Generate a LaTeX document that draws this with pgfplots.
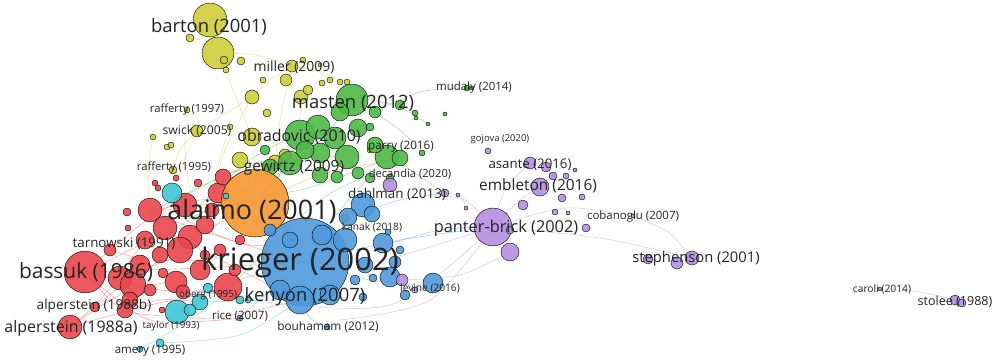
\documentclass[border=0pt]{standalone}
\usepackage{pgfplots}
\pgfplotsset{compat=1.18}
\usepackage{fontspec}
\setmainfont{Open Sans}

\definecolor{cred}{RGB}{234,70,75}
\definecolor{cgreen}{RGB}{78,184,70}
\definecolor{cblue}{RGB}{78,153,220}
\definecolor{cyellow}{RGB}{205,205,58}
\definecolor{cpurple}{RGB}{180,142,224}
\definecolor{ccyan}{RGB}{64,198,214}
\definecolor{corange}{RGB}{246,150,48}
\definecolor{ctext}{RGB}{35,35,35}

\pgfplotsset{
  bub/.style={scatter, only marks, mark=*, point meta=x,
    scatter/use mapped color={draw=none, fill=#1, fill opacity=0.9},
    visualization depends on={\thisrow{r}\as\bubr},
    scatter/@pre marker code/.append style={/tikz/mark size=\bubr}},
  edge/.style={smooth, no markers, draw=#1, line width=0.6pt, opacity=0.45},
}
\newcommand{\lab}[4]{\begin{pgfonlayer}{axis foreground}\node[text=ctext, inner sep=0pt, font=\fontsize{#3}{#3}\selectfont] at (axis cs:#1,#2) {#4};\end{pgfonlayer}}

\begin{document}
\begin{tikzpicture}
\begin{axis}[
  width=997bp, height=360bp, scale only axis, hide axis, set layers,
  xmin=0, xmax=997, ymin=0, ymax=360, y dir=reverse, clip=true,
]

% links
\addplot[edge=cred] coordinates {(85,272) (130,250) (168,232)};
\addplot[edge=cred] coordinates {(85,272) (140,225) (190,193)};
\addplot[edge=cred] coordinates {(85,272) (160,290) (228,290)};
\addplot[edge=cred] coordinates {(85,272) (200,268) (305,262)};
\addplot[edge=cred] coordinates {(85,272) (105,295) (124,312)};
\addplot[edge=cred] coordinates {(70,327) (120,295) (176,280)};
\addplot[edge=cred] coordinates {(70,327) (150,305) (228,290)};
\addplot[edge=cred] coordinates {(150,213) (200,200) (255,203)};
\addplot[edge=cred] coordinates {(150,213) (230,240) (305,262)};
\addplot[edge=cred] coordinates {(124,312) (160,300) (200,302)};
\addplot[edge=cred] coordinates {(124,312) (210,318) (300,300)};
\addplot[edge=cred] coordinates {(133,279) (190,240) (255,203)};
\addplot[edge=cred] coordinates {(95,307) (140,272) (190,252)};
\addplot[edge=cred] coordinates {(186,220) (250,245) (345,240)};
\addplot[edge=cred] coordinates {(168,232) (240,270) (300,300)};
\addplot[edge=cred] coordinates {(110,250) (150,260) (205,260)};
\addplot[edge=cred] coordinates {(70,327) (100,300) (145,240)};
\addplot[edge=cred] coordinates {(85,272) (150,320) (240,318)};
\addplot[edge=cyellow] coordinates {(197,131) (180,150) (173,170)};
\addplot[edge=cyellow] coordinates {(197,131) (175,185) (168,232)};
\addplot[edge=cyellow] coordinates {(187,110) (185,150) (190,193)};
\addplot[edge=cyellow] coordinates {(153,137) (148,175) (150,213)};
\addplot[edge=cyellow] coordinates {(230,127) (218,165) (212,200)};
\addplot[edge=cyellow] coordinates {(292,66) (270,80) (252,97)};
\addplot[edge=cyellow] coordinates {(292,66) (315,70) (330,80)};
\addplot[edge=cyellow] coordinates {(292,66) (330,75) (353,98)};
\addplot[edge=cyellow] coordinates {(218,53) (255,55) (292,66)};
\addplot[edge=cyellow] coordinates {(218,53) (235,95) (252,137)};
\addplot[edge=cyellow] coordinates {(252,97) (225,150) (212,200)};
\addplot[edge=cyellow] coordinates {(301,97) (300,115) (295,133)};
\addplot[edge=cyellow] coordinates {(252,137) (255,170) (255,203)};
\addplot[edge=cyellow] coordinates {(292,66) (280,120) (275,162)};
\addplot[edge=cyellow] coordinates {(197,131) (215,120) (252,97)};
\addplot[edge=cgreen] coordinates {(295,133) (275,200) (305,262)};
\addplot[edge=cgreen] coordinates {(335,137) (290,165) (255,203)};
\addplot[edge=cgreen] coordinates {(385,160) (340,210) (305,262)};
\addplot[edge=cgreen] coordinates {(353,98) (378,96) (399,103)};
\addplot[edge=cgreen] coordinates {(353,98) (395,105) (428,124)};
\addplot[edge=cgreen] coordinates {(318,124) (250,160) (185,220)};
\addplot[edge=cgreen] coordinates {(350,155) (240,170) (150,213)};
\addplot[edge=cgreen] coordinates {(320,155) (250,165) (190,193)};
\addplot[edge=cgreen] coordinates {(375,112) (420,92) (467,88)};
\addplot[edge=cgreen] coordinates {(400,163) (425,180) (445,193)};
\addplot[edge=cgreen] coordinates {(385,160) (300,190) (212,200)};
\addplot[edge=cgreen] coordinates {(358,128) (270,175) (168,232)};
\addplot[edge=cgreen] coordinates {(353,98) (300,160) (186,220)};
\addplot[edge=cgreen] coordinates {(400,163) (320,200) (228,290)};
\addplot[edge=cgreen] coordinates {(353,98) (400,130) (422,153)};
\addplot[edge=cblue] coordinates {(305,262) (370,280) (433,286)};
\addplot[edge=cblue] coordinates {(305,262) (400,240) (493,227)};
\addplot[edge=cblue] coordinates {(385,245) (440,230) (493,227)};
\addplot[edge=cblue] coordinates {(300,300) (310,318) (327,327)};
\addplot[edge=cblue] coordinates {(355,215) (400,200) (445,193)};
\addplot[edge=cblue] coordinates {(305,262) (265,295) (240,318)};
\addplot[edge=cpurple] coordinates {(493,227) (600,238) (692,258)};
\addplot[edge=cpurple] coordinates {(493,227) (565,208) (633,216)};
\addplot[edge=cpurple] coordinates {(633,216) (668,232) (692,258)};
\addplot[edge=cpurple] coordinates {(493,227) (390,305) (250,300)};
\addplot[edge=cpurple] coordinates {(493,227) (430,300) (340,320)};
\addplot[edge=cpurple] coordinates {(445,193) (460,196) (466,208)};
\addplot[edge=cpurple] coordinates {(493,227) (505,190) (530,163)};
\addplot[edge=cpurple] coordinates {(493,227) (520,200) (540,187)};
\addplot[edge=cpurple] coordinates {(510,252) (460,275) (400,280)};
\addplot[edge=cpurple] coordinates {(493,227) (465,200) (430,195)};
\addplot[edge=cpurple] coordinates {(493,227) (420,250) (365,265)};
\addplot[edge=cpurple] coordinates {(880,289) (920,292) (955,300)};
\addplot[edge=ccyan] coordinates {(177,312) (240,280) (305,262)};
\addplot[edge=ccyan] coordinates {(160,343) (240,335) (300,300)};
\addplot[edge=ccyan] coordinates {(140,349) (190,320) (230,290)};
\addplot[edge=ccyan] coordinates {(200,302) (270,300) (330,295)};
\addplot[edge=corange] coordinates {(255,203) (200,205) (150,213)};
\addplot[edge=corange] coordinates {(255,203) (320,175) (390,160)};

% yellow cluster
\addplot[bub=cyellow] table {
x y r
210 20 17
218 53 16
190 38 4
224 60 4
241 61 4
226 70 3
263 80 3
292 66 6
303 60 3
320 65 2
286 80 6
252 97 7
301 97 7
308 90 5
267 113 4
322 83 3
330 80 3
340 82 3
347 82 3
187 110 3
153 137 3
167 147 3
171 145 3
197 131 6
230 127 3
252 137 9
173 170 4
240 160 8
275 162 7
285 155 6
370 150 3
};

% green cluster
\addplot[bub=cgreen] table {
x y r
352 100 16
340 112 9
300 135 15
318 127 12
335 138 11
358 128 9
375 112 6
370 127 4
320 153 10
347 157 12
290 163 12
305 150 9
387 157 12
400 158 8
375 145 8
400 105 5
415 113 3
416 118 2
428 124 2
445 114 2
422 153 3
467 88 3
472 88 2
270 167 8
320 175 8
337 177 6
358 173 6
370 178 5
390 178 4
265 150 5
};

% red cluster
\addplot[bub=cred] table {
x y r
85 272 21
120 278 12
133 285 13
130 300 8
150 210 12
165 228 12
185 205 12
190 237 12
180 250 13
218 193 10
223 177 8
198 183 4
205 225 9
140 265 10
200 270 10
163 273 5
150 290 6
145 240 9
160 255 8
155 183 3
158 188 3
127 212 4
128 228 3
176 178 3
212 210 7
176 282 11
183 292 7
228 287 14
235 270 6
95 307 5
125 310 8
70 327 12
162 310 3
205 255 5
220 250 6
240 240 5
110 250 6
};

% orange cluster
\addplot[bub=corange] table {
x y r
255 203 34
345 218 4
};

% blue cluster
\addplot[bub=cblue] table {
x y r
305 262 44
363 205 12
348 217 9
372 214 8
345 240 12
383 243 10
365 265 8
390 277 10
395 262 6
405 295 5
433 283 10
400 250 4
355 280 5
363 297 4
373 278 4
388 232 3
300 300 14
280 290 10
330 295 10
240 318 3
327 327 3
270 230 6
322 235 10
290 240 8
};

% cyan cluster
\addplot[bub=ccyan] table {
x y r
172 193 10
177 312 12
200 302 8
190 310 6
208 288 5
240 300 4
140 349 3
160 343 4
226 196 3
248 300 3
};

% purple cluster
\addplot[bub=cpurple] table {
x y r
493 227 19
540 187 9
530 163 6
546 167 5
553 176 4
566 176 3
575 170 2
488 151 3
523 205 5
562 198 4
555 212 3
582 197 3
568 213 2
586 228 4
510 230 4
510 252 9
633 216 2
648 259 5
677 263 6
692 258 7
880 289 2
955 300 5
962 303 4
445 193 4
390 185 7
466 208 2
402 280 6
415 290 3
458 195 2
};

% labels
\lab{209}{27}{18.5}{barton (2001)}
\lab{294}{67}{14}{miller (2009)}
\lab{353}{103}{18.5}{masten (2012)}
\lab{474}{88}{11.5}{mudaly (2014)}
\lab{187}{110}{11.3}{rafferty (1997)}
\lab{197}{131}{12.2}{swick (2005)}
\lab{299}{137}{16}{obradovic (2010)}
\lab{401}{147}{11.7}{parry (2016)}
\lab{500}{139}{9.5}{gojova (2020)}
\lab{174}{168}{11.3}{rafferty (1995)}
\lab{294}{168}{15.5}{gewirtz (2009)}
\lab{410}{174}{11.2}{decandia (2020)}
\lab{530}{165}{13.3}{asante (2016)}
\lab{538}{186}{15.5}{embleton (2016)}
\lab{397}{194}{13.5}{dahlman (2013)}
\lab{252}{211}{27}{alaimo (2001)}
\lab{372}{227}{10.2}{kanak (2018)}
\lab{506}{228}{16.4}{panter-brick (2002)}
\lab{633}{217}{11.5}{cobanoglu (2007)}
\lab{124}{243}{13.4}{tarnowski (1991)}
\lab{300}{262}{31}{krieger (2002)}
\lab{696}{259}{14.8}{stephenson (2001)}
\lab{86}{272}{21}{bassuk (1986)}
\lab{430}{288}{10.2}{levine (2016)}
\lab{882}{289}{10.3}{caroli (2014)}
\lab{305}{297}{18.5}{kenyon (2007)}
\lab{208}{295}{9.9}{oberg (1995)}
\lab{955}{302}{12.6}{stolee (1988)}
\lab{94}{306}{13.7}{alperstein (1988b)}
\lab{240}{316}{11.6}{rice (2007)}
\lab{71}{328}{16}{alperstein (1988a)}
\lab{171}{326}{9.8}{taylor (1993)}
\lab{328}{327}{11.9}{bouhamam (2012)}
\lab{150}{351}{11.6}{amery (1995)}
\end{axis}
\path (current axis.south west) rectangle (current axis.north east);
\end{tikzpicture}
\end{document}
